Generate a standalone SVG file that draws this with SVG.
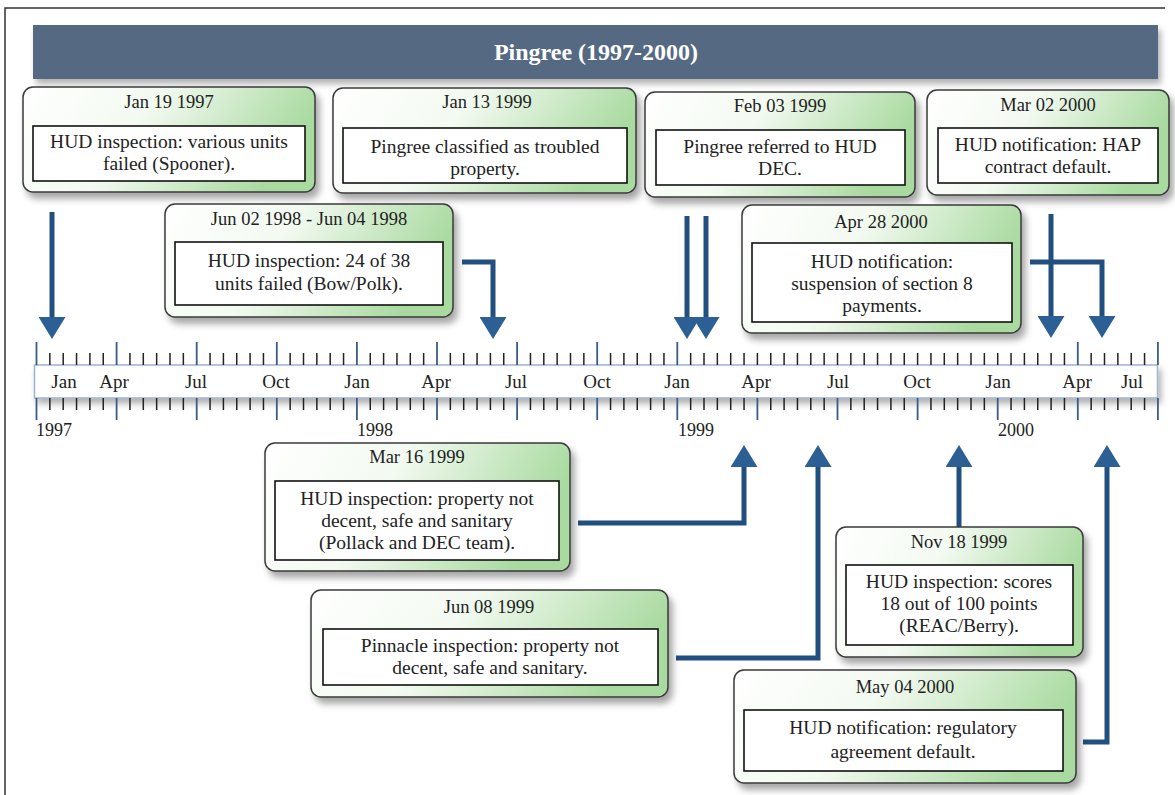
<svg xmlns="http://www.w3.org/2000/svg" width="1175" height="795" viewBox="0 0 1175 795">
<defs>
  <linearGradient id="gNode" x1="0" y1="0" x2="1" y2="0.25">
    <stop offset="0" stop-color="#ffffff"/>
    <stop offset="0.45" stop-color="#f3faf1"/>
    <stop offset="1" stop-color="#a9daa0"/>
  </linearGradient>
  <filter id="shadow" x="-10%" y="-10%" width="125%" height="135%">
    <feDropShadow dx="4" dy="6" stdDeviation="3.5" flood-color="#000" flood-opacity="0.35"/>
  </filter>
  <filter id="shadowBar" x="-5%" y="-20%" width="110%" height="160%">
    <feDropShadow dx="3" dy="5" stdDeviation="3" flood-color="#000" flood-opacity="0.3"/>
  </filter>
  <marker id="arrow" markerUnits="userSpaceOnUse" markerWidth="23" markerHeight="27" refX="0" refY="13.5" orient="auto">
    <path d="M0,0 L22,13.5 L0,27 Z" fill="#2c5f93"/>
  </marker>
  <style>
    .node { fill: url(#gNode); stroke: #3a3a3a; stroke-width: 1.5; filter: url(#shadow); }
    .inner { fill: #ffffff; stroke: #111; stroke-width: 1.6; }
    .date { font-family: "Liberation Serif", "Times New Roman", serif; font-size: 18.5px; fill: #222; text-anchor: middle; }
    .body { font-family: "Liberation Serif", "Times New Roman", serif; font-size: 19.5px; fill: #222; text-anchor: middle; }
    .month { font-family: "Liberation Serif", "Times New Roman", serif; font-size: 19px; fill: #222; text-anchor: middle; }
    .year { font-family: "Liberation Serif", "Times New Roman", serif; font-size: 18px; fill: #222; }
    .title { font-family: "Liberation Serif", "Times New Roman", serif; font-size: 24px; font-weight: bold; fill: #ffffff; text-anchor: middle; }
    .conn { fill: none; stroke: #214f7f; stroke-width: 5; marker-end: url(#arrow); }
    .tickMin { stroke: #222; stroke-width: 1.5; }
    .tickMaj { stroke: #3b5b88; stroke-width: 1.8; }
  </style>
</defs>

<rect x="0" y="0" width="1175" height="795" fill="#ffffff"/>
<path d="M5,795 V8 H1165" fill="none" stroke="#333" stroke-width="1.5"/>

<g id="title">
  <rect x="33" y="25" width="1125" height="54" fill="#546a82" filter="url(#shadowBar)"/>
  <text class="title" x="596" y="60">Pingree (1997-2000)</text>
</g>

<g id="axis">
  <rect x="34.5" y="365" width="1123" height="33" fill="#ffffff" stroke="#9db3cf" stroke-width="1.5" filter="url(#shadowBar)"/>
  <path class="tickMin" d="M49.85,353V365M63.2,353V365M76.55,353V365M89.9,353V365M103.25,353V365M129.95,353V365M143.3,353V365M156.65,353V365M170,353V365M183.35,353V365M210.05,353V365M223.4,353V365M236.75,353V365M250.1,353V365M263.45,353V365M290.15,353V365M303.5,353V365M316.85,353V365M330.2,353V365M343.55,353V365M370.25,353V365M383.6,353V365M396.95,353V365M410.3,353V365M423.65,353V365M450.35,353V365M463.7,353V365M477.05,353V365M490.4,353V365M503.75,353V365M530.45,353V365M543.8,353V365M557.15,353V365M570.5,353V365M583.85,353V365M610.55,353V365M623.9,353V365M637.25,353V365M650.6,353V365M663.95,353V365M690.65,353V365M704,353V365M717.35,353V365M730.7,353V365M744.05,353V365M757.4,353V365M770.75,353V365M784.1,353V365M797.45,353V365M810.8,353V365M824.15,353V365M837.5,353V365M850.85,353V365M864.2,353V365M877.55,353V365M890.9,353V365M904.25,353V365M917.6,353V365M930.95,353V365M944.3,353V365M957.65,353V365M971,353V365M984.35,353V365M997.7,353V365M1011.05,353V365M1024.4,353V365M1037.75,353V365M1051.1,353V365M1064.45,353V365M1091.15,353V365M1104.5,353V365M1117.85,353V365M1131.2,353V365M1144.55,353V365"/>
  <path class="tickMaj" d="M36.5,342V365M116.6,342V365M196.7,342V365M276.8,342V365M356.9,342V365M437,342V365M517.1,342V365M597.2,342V365M677.3,342V365M1077.8,342V365M1157.9,342V365"/>
  <path class="tickMin" d="M49.85,398V410M63.2,398V410M76.55,398V410M89.9,398V410M103.25,398V410M129.95,398V410M143.3,398V410M156.65,398V410M170,398V410M183.35,398V410M210.05,398V410M223.4,398V410M236.75,398V410M250.1,398V410M263.45,398V410M290.15,398V410M303.5,398V410M316.85,398V410M330.2,398V410M343.55,398V410M370.25,398V410M383.6,398V410M396.95,398V410M410.3,398V410M423.65,398V410M450.35,398V410M463.7,398V410M477.05,398V410M490.4,398V410M503.75,398V410M530.45,398V410M543.8,398V410M557.15,398V410M570.5,398V410M583.85,398V410M610.55,398V410M623.9,398V410M637.25,398V410M650.6,398V410M663.95,398V410M690.65,398V410M704,398V410M717.35,398V410M730.7,398V410M744.05,398V410M770.75,398V410M784.1,398V410M797.45,398V410M810.8,398V410M824.15,398V410M850.85,398V410M864.2,398V410M877.55,398V410M890.9,398V410M904.25,398V410M930.95,398V410M944.3,398V410M957.65,398V410M971,398V410M984.35,398V410M1011.05,398V410M1024.4,398V410M1037.75,398V410M1051.1,398V410M1064.45,398V410M1091.15,398V410M1104.5,398V410M1117.85,398V410M1131.2,398V410M1144.55,398V410"/>
  <path class="tickMaj" d="M36.5,398V420M116.6,398V420M196.7,398V420M276.8,398V420M356.9,398V420M437,398V420M517.1,398V420M597.2,398V420M677.3,398V420M757.4,398V420M837.5,398V420M917.6,398V420M997.7,398V420M1077.8,398V420M1157.9,398V420"/>
  <text class="month" x="64" y="388">Jan</text>
  <text class="month" x="114" y="388">Apr</text>
  <text class="month" x="196" y="388">Jul</text>
  <text class="month" x="276" y="388">Oct</text>
  <text class="month" x="357" y="388">Jan</text>
  <text class="month" x="436" y="388">Apr</text>
  <text class="month" x="516" y="388">Jul</text>
  <text class="month" x="597" y="388">Oct</text>
  <text class="month" x="677" y="388">Jan</text>
  <text class="month" x="756" y="388">Apr</text>
  <text class="month" x="838" y="388">Jul</text>
  <text class="month" x="917" y="388">Oct</text>
  <text class="month" x="998" y="388">Jan</text>
  <text class="month" x="1077" y="388">Apr</text>
  <text class="month" x="1132" y="388">Jul</text>
  <text class="year" x="36" y="436">1997</text>
  <text class="year" x="357" y="436">1998</text>
  <text class="year" x="678" y="436">1999</text>
  <text class="year" x="998" y="436">2000</text>
</g>

<g id="connectors">
  <path class="conn" d="M52,212 V317"/>
  <path class="conn" d="M462,262 H493 V317"/>
  <path class="conn" d="M687,216 V317"/>
  <path class="conn" d="M706,216 V317"/>
  <path class="conn" d="M1051,214 V316"/>
  <path class="conn" d="M1030,262 H1102 V316"/>
  <path class="conn" d="M578,523 H744 V467"/>
  <path class="conn" d="M676,658 H818 V467"/>
  <path class="conn" d="M959,527 V467"/>
  <path class="conn" d="M1083,742 H1107 V467"/>
</g>

<g id="n1">
  <rect class="node" x="23" y="87" width="292" height="105" rx="10"/>
  <text class="date" x="169" y="108">Jan 19 1997</text>
  <rect class="inner" x="33" y="126" width="272" height="55"/>
  <text class="body" x="169" y="148">HUD inspection: various units</text>
  <text class="body" x="169" y="170">failed (Spooner).</text>
</g>

<g id="n2">
  <rect class="node" x="333" y="88" width="303" height="105" rx="10"/>
  <text class="date" x="487" y="108">Jan 13 1999</text>
  <rect class="inner" x="343" y="128" width="284" height="55"/>
  <text class="body" x="485" y="153">Pingree classified as troubled</text>
  <text class="body" x="485" y="175">property.</text>
</g>

<g id="n3">
  <rect class="node" x="645" y="92" width="270" height="105" rx="10"/>
  <text class="date" x="780" y="112">Feb 03 1999</text>
  <rect class="inner" x="656" y="130" width="249" height="55"/>
  <text class="body" x="780" y="153">Pingree referred to HUD</text>
  <text class="body" x="780" y="175">DEC.</text>
</g>

<g id="n4">
  <rect class="node" x="927" y="90" width="242" height="105" rx="10"/>
  <text class="date" x="1048" y="111">Mar 02 2000</text>
  <rect class="inner" x="938" y="128" width="220" height="55"/>
  <text class="body" x="1048" y="151">HUD notification: HAP</text>
  <text class="body" x="1048" y="173">contract default.</text>
</g>

<g id="n5">
  <rect class="node" x="165" y="204" width="288" height="113" rx="10"/>
  <text class="date" x="309" y="225">Jun 02 1998 - Jun 04 1998</text>
  <rect class="inner" x="175" y="242" width="268" height="63"/>
  <text class="body" x="309" y="267">HUD inspection: 24 of 38</text>
  <text class="body" x="309" y="290">units failed (Bow/Polk).</text>
</g>

<g id="n6">
  <rect class="node" x="742" y="205" width="279" height="128" rx="10"/>
  <text class="date" x="881" y="228">Apr 28 2000</text>
  <rect class="inner" x="752" y="243" width="260" height="79"/>
  <text class="body" x="882" y="268">HUD notification:</text>
  <text class="body" x="882" y="290">suspension of section 8</text>
  <text class="body" x="882" y="312">payments.</text>
</g>

<g id="n7">
  <rect class="node" x="265" y="443" width="305" height="128" rx="10"/>
  <text class="date" x="417" y="463">Mar 16 1999</text>
  <rect class="inner" x="275" y="481" width="284" height="79"/>
  <text class="body" x="417" y="505">HUD inspection: property not</text>
  <text class="body" x="417" y="527">decent, safe and sanitary</text>
  <text class="body" x="417" y="549">(Pollack and DEC team).</text>
</g>

<g id="n8">
  <rect class="node" x="311" y="590" width="357" height="107" rx="10"/>
  <text class="date" x="489" y="613">Jun 08 1999</text>
  <rect class="inner" x="323" y="629" width="335" height="56"/>
  <text class="body" x="490" y="652">Pinnacle inspection: property not</text>
  <text class="body" x="490" y="674">decent, safe and sanitary.</text>
</g>

<g id="n9">
  <rect class="node" x="836" y="527" width="247" height="130" rx="10"/>
  <text class="date" x="959" y="548">Nov 18 1999</text>
  <rect class="inner" x="846" y="565" width="227" height="80"/>
  <text class="body" x="959" y="588">HUD inspection: scores</text>
  <text class="body" x="959" y="610">18 out of 100 points</text>
  <text class="body" x="959" y="632">(REAC/Berry).</text>
</g>

<g id="n10">
  <rect class="node" x="734" y="670" width="342" height="113" rx="10"/>
  <text class="date" x="905" y="693">May 04 2000</text>
  <rect class="inner" x="744" y="710" width="319" height="61"/>
  <text class="body" x="903" y="734">HUD notification: regulatory</text>
  <text class="body" x="903" y="758">agreement default.</text>
</g>
</svg>
